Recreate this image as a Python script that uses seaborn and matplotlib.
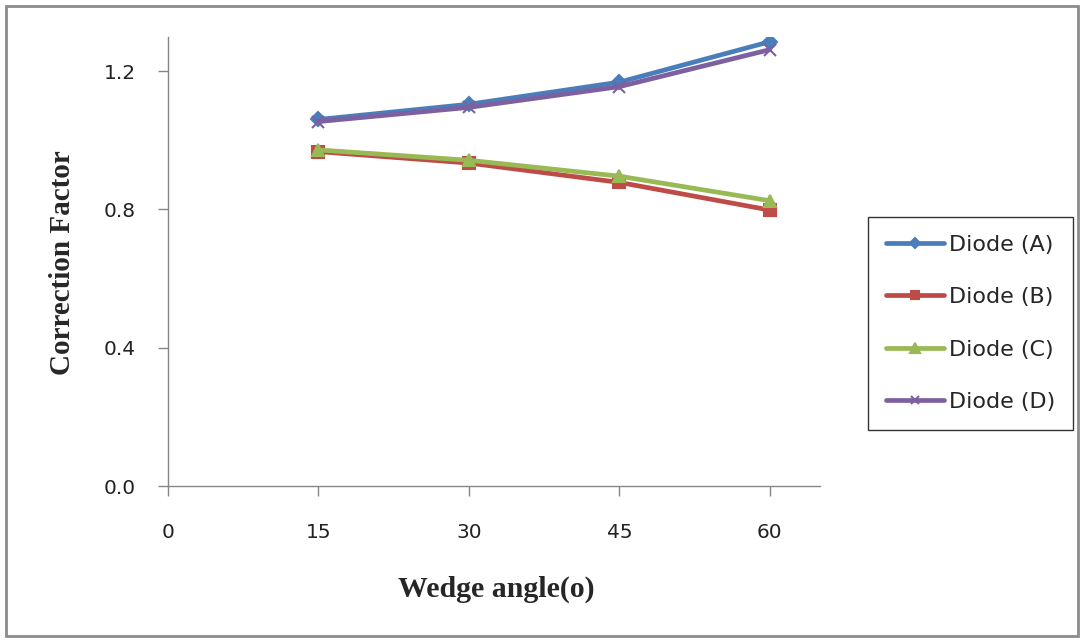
import matplotlib
matplotlib.use("Agg")
import matplotlib.pyplot as plt
import seaborn as sns
import pandas as pd
from matplotlib.patches import Rectangle

# values
wedge_angle = [15, 30, 45, 60]
diode_a = [1.060, 1.104, 1.168, 1.285]
diode_b = [0.967, 0.934, 0.878, 0.798]
diode_c = [0.972, 0.942, 0.896, 0.825]
diode_d = [1.054, 1.095, 1.155, 1.262]
labels = ["Diode (A)", "Diode (B)", "Diode (C)", "Diode (D)"]
x_ticks = [0, 15, 30, 45, 60]
y_ticks = [0.0, 0.4, 0.8, 1.2]

colors = ["#4A7EBB", "#BE4B48", "#98B954", "#7D60A0"]
markers = ["D", "s", "^", "x"]
msizes = [7, 8, 9, 8]

sns.set_style("white")
plt.rcParams['font.family'] = ['DejaVu Sans']

fig = plt.figure(figsize=(10.86, 6.42), dpi=100)
ax = fig.add_axes([168 / 1086, 1 - 486 / 642, 652 / 1086, 449.5 / 642])

series = [diode_a, diode_b, diode_c, diode_d]
for vals, lab, col, mk, ms in zip(series, labels, colors, markers, msizes):
    df = pd.DataFrame({"angle": wedge_angle, "cf": vals})
    sns.lineplot(data=df, x="angle", y="cf", ax=ax, color=col, linewidth=3.4,
                 marker=mk, markersize=ms, markeredgecolor=col,
                 markeredgewidth=1.5, label=lab)

ax.set_xlim(0, 65)
ax.set_ylim(0, 1.3)
ax.set_xticks(x_ticks)
ax.set_xticklabels([str(t) for t in x_ticks])
ax.set_yticks(y_ticks)
ax.set_yticklabels([f"{t:.1f}" for t in y_ticks])
ax.tick_params(axis='x', direction='out', length=7, width=1, color='#868686',
               labelsize=14.5, pad=20, bottom=True, labelcolor='#222222')
ax.tick_params(axis='y', direction='out', length=7, width=1, color='#868686',
               labelsize=14.5, pad=16, left=True, labelcolor='#222222')

sns.despine(ax=ax)
for s in ["left", "bottom"]:
    ax.spines[s].set_color('#868686')
    ax.spines[s].set_linewidth(1)

ax.set_xlabel("Wedge angle(o)", family="Liberation Serif", fontweight="bold",
              fontsize=21.5, va="center")
ax.set_ylabel("Correction Factor", family="Liberation Serif", fontweight="bold",
              fontsize=21, va="center")
ax.xaxis.set_label_coords(0.503, -(589 - 486) / 449.5)
ax.yaxis.set_label_coords((63 - 168) / 652, (486 - 263) / 449.5)

leg = ax.legend(loc="upper left", bbox_to_anchor=(868 / 1086, 1 - 217 / 642),
                bbox_transform=fig.transFigure, fontsize=16, handlelength=2.6,
                handletextpad=0.25, labelspacing=1.46, borderpad=0.8,
                markerscale=0.75, fancybox=False, frameon=True, borderaxespad=0)
leg.get_frame().set_edgecolor("black")
leg.get_frame().set_linewidth(1)

# outer chart border
fig.patches.append(Rectangle((6 / 1086, 1 - 636 / 642), 1072 / 1086, 630 / 642,
                             transform=fig.transFigure, fill=False,
                             edgecolor="#8c8c8c", linewidth=2))

fig.savefig("out.png", dpi=100)
